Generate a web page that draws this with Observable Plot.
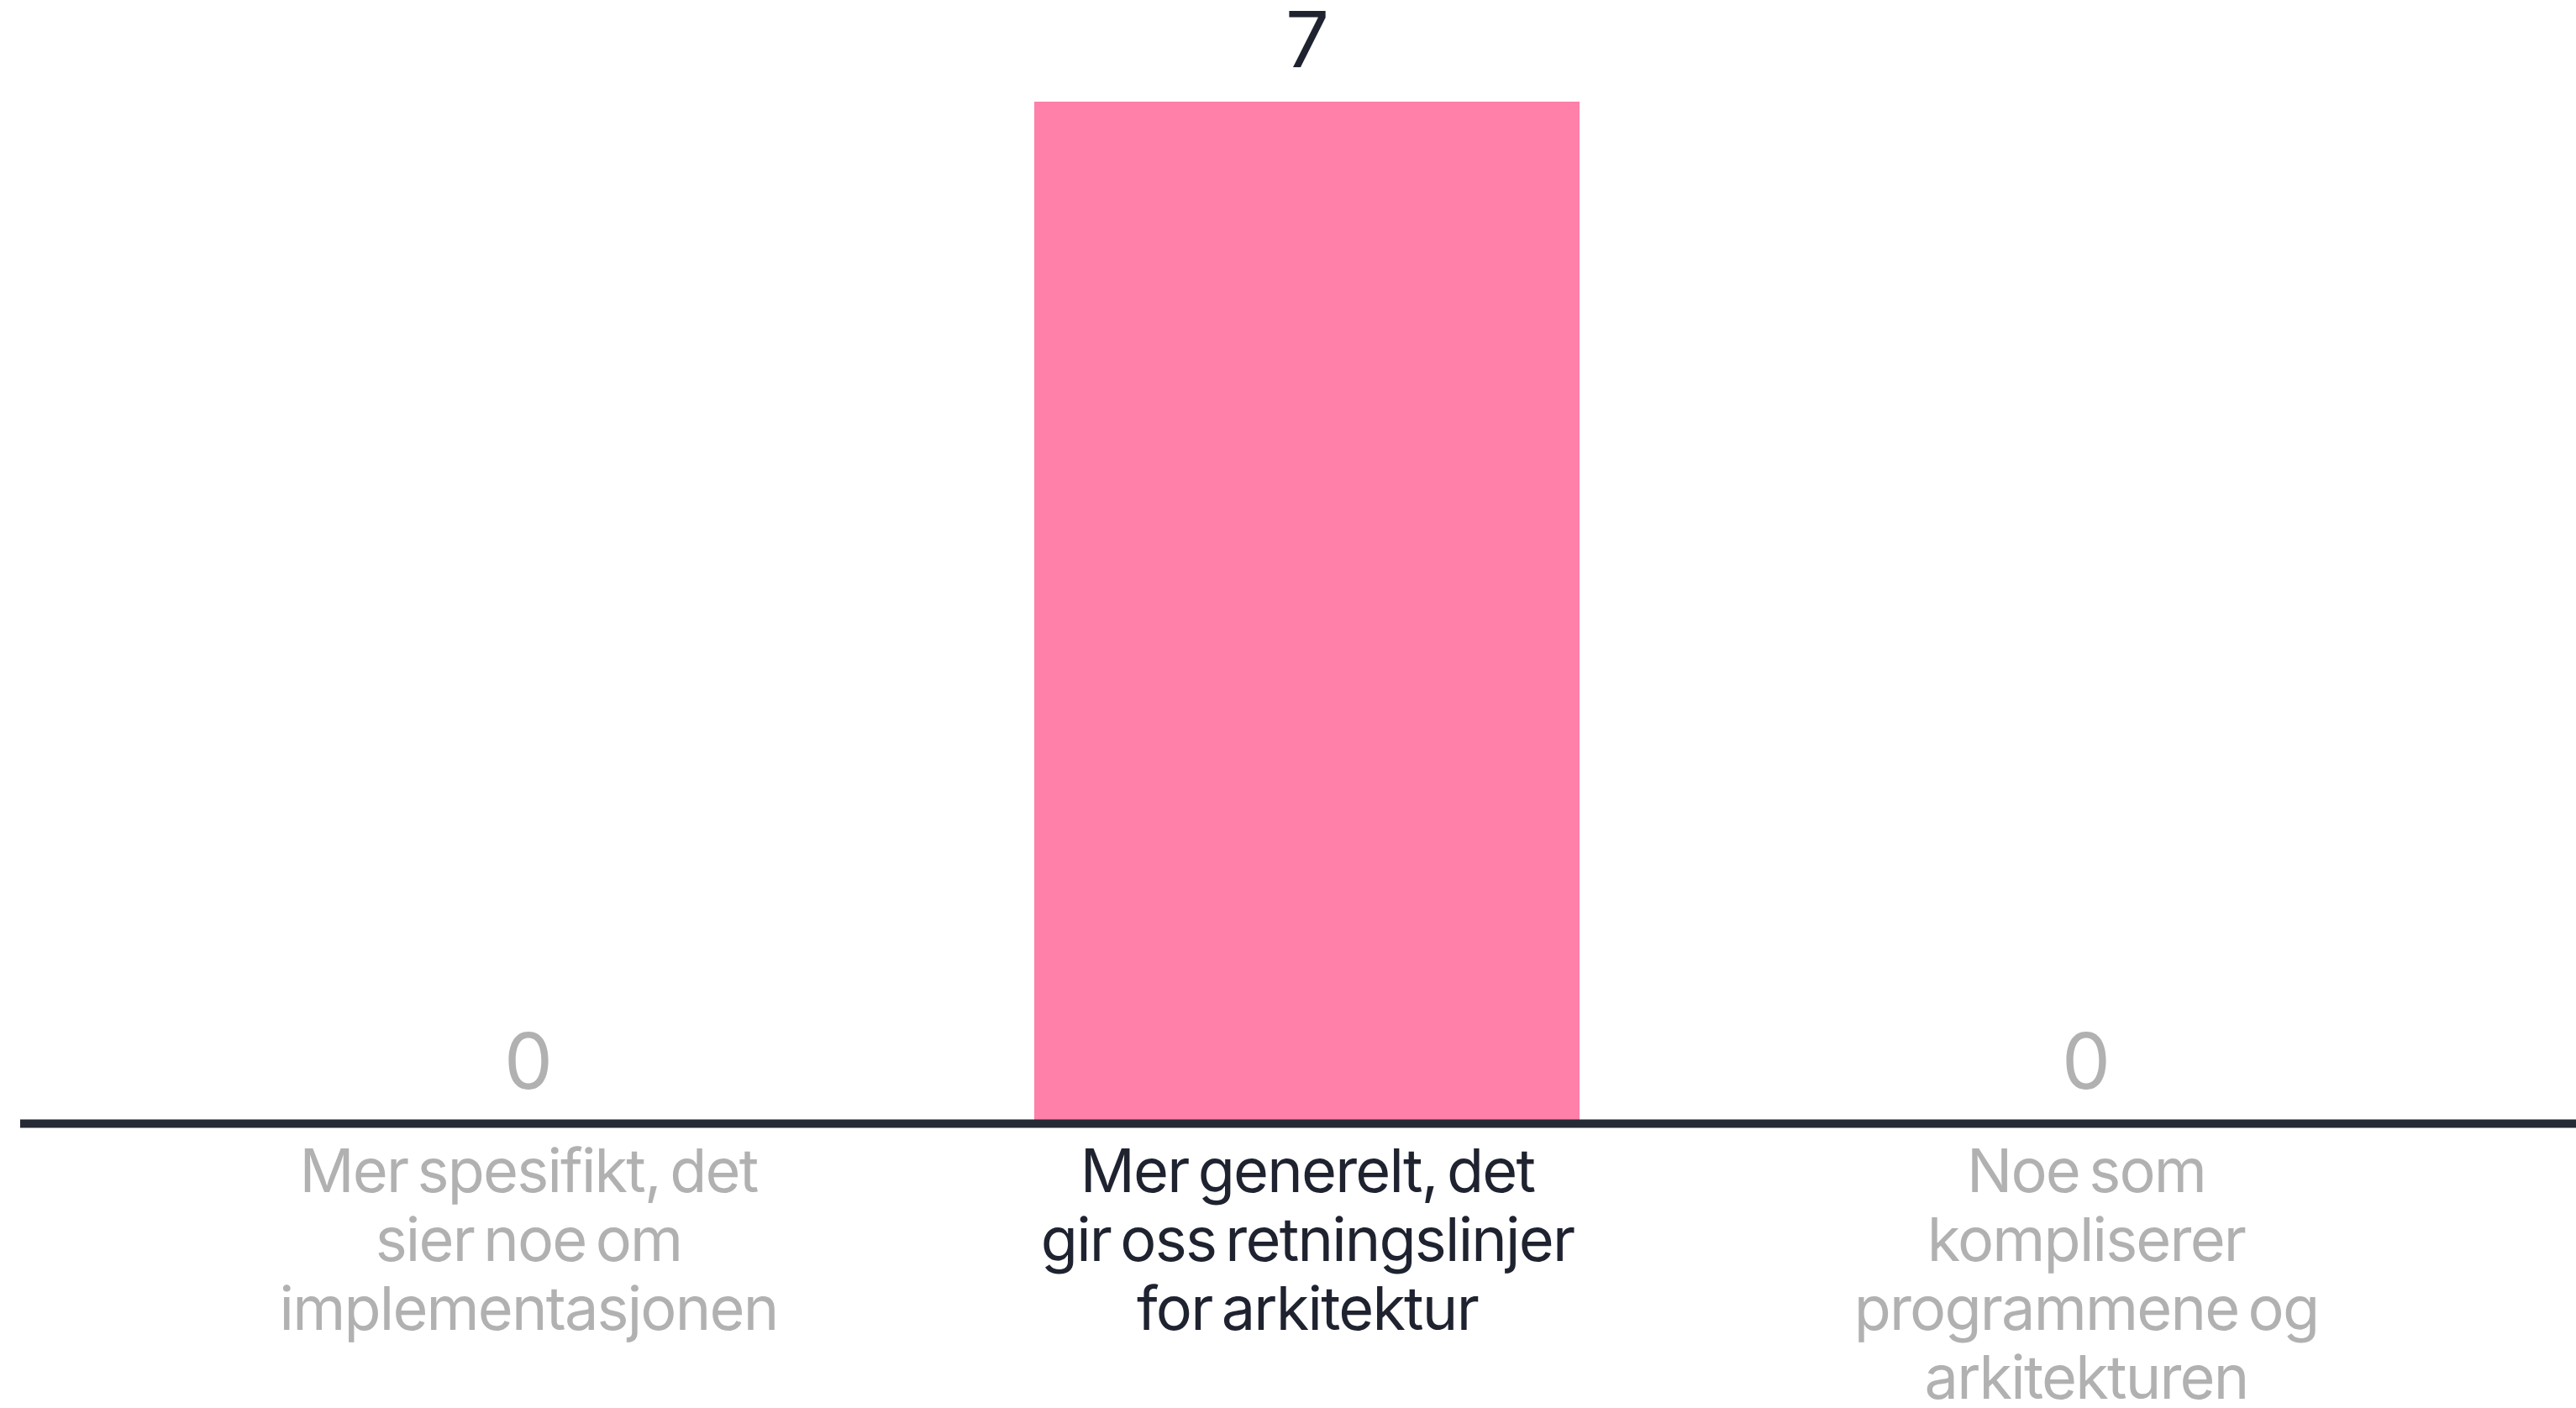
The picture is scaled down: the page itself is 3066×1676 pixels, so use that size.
<!DOCTYPE html>
<html><head><meta charset="utf-8">
<script src="https://cdn.jsdelivr.net/npm/d3@7"></script>
<script src="https://cdn.jsdelivr.net/npm/@observablehq/plot@0.6"></script>
<style>html,body{margin:0;padding:0;background:#fff;overflow:hidden} .cat-label text{word-spacing:-0.1em;letter-spacing:-0.025em}</style>
</head><body><div id="chart"></div>
<script>
const categories = [
  "Mer spesifikt, det\nsier noe om\nimplementasjonen",
  "Mer generelt, det\ngir oss retningslinjer\nfor arkitektur",
  "Noe som\nkompliserer\nprogrammene og\narkitekturen"
];
const values = [0, 7, 0];

const data = categories.map((c, i) => ({category: c, value: values[i]}));
const DARK = "#1f2330", GREY = "#b1b1b1", PINK = "#ff80a9", AXIS = "#262a35";
const tone = d => d.value > 0 ? DARK : GREY;

const chart = Plot.plot({
  width: 3066, height: 1676,
  marginTop: 121, marginBottom: 339, marginLeft: 24, marginRight: 0,
  x: {domain: categories, range: [24, 3086], padding: 0.3, axis: null},
  y: {domain: [0, 7], axis: null},
  color: {type: "identity"},
  style: {fontFamily: "Inter", background: "#fff", overflow: "visible"},
  marks: [
    Plot.barY(data, {x: "category", y: "value", fill: PINK}),
    Plot.ruleY([0], {stroke: AXIS, strokeWidth: 10}),
    Plot.text(data, {x: "category", y: "value", text: d => String(d.value), lineAnchor: "bottom", dy: -42, fontSize: 92, fill: tone}),
    Plot.text(data, {x: "category", y: 0, text: "category", lineAnchor: "top", dy: 23, fontSize: 72, lineHeight: 1.14, fill: tone, className: "cat-label"})
  ]
});
document.getElementById("chart").appendChild(chart);
</script>
</body></html>
